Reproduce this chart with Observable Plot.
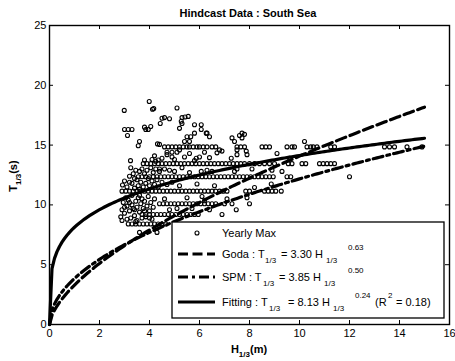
<!DOCTYPE html>
<html><head><meta charset="utf-8">
<script src="https://cdn.jsdelivr.net/npm/d3@7"></script>
<script src="https://cdn.jsdelivr.net/npm/@observablehq/plot@0.6"></script>
<style>
body{margin:0;background:#fff}
svg{font-family:"Liberation Sans",Arial,sans-serif}
</style>
</head><body><div id="chart"></div>
<script>
// ---------- data ----------
const chartTitle = "Hindcast Data : South Sea";
const xTicks = [0, 2, 4, 6, 8, 10, 12, 14, 16];
const yTicks = [0, 5, 10, 15, 20, 25];

// yearly maxima that fall on the quantized period rows
const rowLevels = [8.4, 9.2, 10.1, 11.15, 12.35, 13.45, 14.85];
const rowH = [
  [3.15,3.3,3.45,3.6,3.75,3.9,4.05,4.2,4.35,4.5,4.65],
  [3.7,3.85,4.0,4.15,4.3,4.45,4.6,4.75,4.9,5.05,5.2,5.35,5.5,5.65,5.8,5.95,6.9],
  [4.4,4.55,4.7,4.85,5.0,5.15,5.3,5.45,5.6,5.75,5.9,6.05,6.2,6.35,6.5,6.65,7.0,7.3,8.0],
  [2.9,3.05,3.2,3.35,3.5,3.65,3.8,3.95,4.1,4.25,4.4,4.55,4.7,4.85,5.0,5.15,5.3,5.45,5.6,5.75,5.9,6.05,6.2,6.35,6.5,6.65,6.8,6.95,7.1,7.85,8.0,8.6,8.75,8.9,9.05,9.27],
  [3.55,3.7,3.85,4.0,4.15,4.3,4.45,4.6,4.75,4.9,5.05,5.2,5.35,5.5,5.65,5.8,5.95,6.1,6.25,6.4,6.55,6.7,6.85,7.0,7.15,7.3,7.45,7.6,7.75,7.9,8.05,8.2,8.35,8.5,8.65,8.8,8.95,9.5,9.65,12.0],
  [3.75,3.9,4.05,4.2,4.35,4.5,4.65,4.8,4.95,5.1,5.25,5.4,5.55,5.7,5.85,6.0,6.15,6.3,6.45,6.6,6.75,6.9,7.05,7.2,7.35,7.5,7.65,7.8,8.0,8.2,8.4,8.6,8.8,9.0,9.55,9.7,10.1,10.25,10.8,10.95,11.1,11.25,11.4],
  [4.6,4.75,4.9,5.05,5.2,5.35,5.5,5.6,5.75,5.9,6.0,6.15,6.3,6.5,6.65,7.5,7.65,7.8,8.5,8.65,8.8,9.5,9.7,9.8,10.3,10.45,10.55,10.7,11.25,11.4,13.4,13.6,13.8,14.3,14.9]
];

// other yearly maxima [H1/3, T1/3]
const looseHT = [
  [2.99,17.9],[3.99,18.65],[4.12,18.0],[4.17,18.05],[5.1,18.1],[4.5,17.25],[4.6,17.3],[4.43,16.8],[4.8,17.2],
  [5.3,17.3],[5.42,17.35],[5.55,17.4],[5.3,16.8],[5.2,16.4],[5.8,16.7],[3.0,16.3],[3.15,16.3],[3.3,16.3],
  [3.8,16.5],[3.85,16.3],[3.95,16.3],[4.05,16.55],[3.12,15.8],[3.6,15.3],[3.55,14.95],[4.32,15.1],[5.5,15.7],
  [5.65,15.7],[5.4,15.3],[4.7,14.4],[4.9,14.4],[5.1,14.4],[4.2,14.1],[3.8,13.75],[4.1,13.8],[4.25,13.65],
  [4.35,13.75],[3.24,13.7],[4.9,14.0],[6.07,16.7],[6.3,16.0],[6.4,15.7],[7.3,15.6],[7.7,16.0],[7.7,15.6],
  [7.27,13.9],[7.5,14.2],[7.9,14.2],[7.5,14.6],[6.8,14.6],[6.0,14.0],[6.4,13.95],[10.2,15.3],
  [4.4,15.06],[5.27,17.0],[5.8,16.0],[6.07,16.3],[6.27,16.0],[7.6,15.8],[7.8,15.9],[7.4,15.3],[6.9,14.5],
  [6.7,14.35],[7.87,14.5],[5.87,13.9],[5.6,15.3],[4.4,13.0],
  [2.85,9.0],[2.9,9.6],[2.95,10.2],[3.0,9.3],[3.05,10.6],[3.1,8.8],[3.1,9.9],[3.15,10.4],[3.2,9.5],[3.25,8.9],
  [3.3,10.0],[3.3,10.8],[3.35,9.7],[3.4,9.1],[3.45,10.3],[3.5,9.8],[3.5,8.7],[3.55,10.6],[3.6,9.4],[3.65,10.1],
  [3.7,8.9],[3.7,10.5],[3.75,9.7],[3.8,10.3],[3.85,9.0],[3.9,9.9],[3.95,10.7],[4.0,9.5],[4.05,10.2],[4.1,8.8],
  [4.15,9.8],[4.2,10.5],[3.2,10.2],[3.4,9.6],[3.6,10.8],[3.0,9.8],[2.9,8.7],[3.8,9.5],[4.0,8.9],[3.45,8.6],
  [2.92,11.67],[3.0,12.0],[3.1,11.5],[3.2,12.4],[3.25,13.1],[3.3,11.8],[3.35,12.6],[3.4,11.4],[3.45,12.9],
  [3.5,12.1],[3.55,11.6],[3.6,12.8],[3.65,11.9],[3.7,13.0],[3.75,11.5],[3.8,12.6],[3.85,11.8],[3.9,12.9],
  [3.95,12.2],[4.0,11.6],[4.05,13.1],[4.1,12.0],[4.15,12.7],[4.2,11.7],[4.25,13.0],[4.3,12.1],[4.35,11.5],
  [4.4,12.8],[4.5,11.9],[4.6,13.0],[4.7,11.7],[4.8,12.9],[3.4,12.2],[3.6,11.3],[3.2,11.9],
  [4.5,13.9],[4.7,14.2],[5.0,13.8],[5.2,14.6],[5.4,14.0],[5.6,14.3],[5.8,13.7],[6.2,14.4],
  [5.0,12.8],[5.3,13.1],[5.6,12.7],[5.9,11.75],[5.2,11.6],[4.9,11.9],[6.3,12.9],[6.6,11.6],[5.5,10.6],
  [6.1,10.7],[4.6,10.5],[5.1,9.7],[4.8,9.6],[5.7,9.7],[6.4,9.6],[4.3,7.7],[3.6,7.7],
  [6.07,12.8],[6.5,12.8],[7.5,13.0],[8.2,11.45],[8.87,11.75],[7.1,10.5],[7.9,10.6],[7.47,9.6],[6.2,10.35],
  [8.1,13.0],[7.4,12.8],[8.9,12.9],[9.6,13.9],[9.1,14.3],[9.3,12.8]
];

// empirical relations T1/3 = a * H1/3 ^ b (from the legend)
const models = ["Goda", "SPM", "Fitting"];
const coefA = [3.30, 3.85, 8.13];
const coefB = [0.63, 0.50, 0.24];
const hGrid = d3.range(0, 150.5, 1).map(i => i / 10); // 0 .. 15 m, step 0.1

// ---------- build tables ----------
const points = [];
rowLevels.forEach((t, i) => rowH[i].forEach(h => points.push({H: h, T: t})));
looseHT.forEach(([h, t]) => points.push({H: h, T: t}));

const curves = models.map((m, i) => hGrid.map(h => ({model: m, H: h, T: coefA[i] * Math.pow(h, coefB[i])})));

// ---------- layout ----------
const W = 455, Ht = 361, mL = 49, mR = 6, mT = 25, mB = 37;
const pw = W - mL - mR, ph = Ht - mT - mB;
const lineW = 3.2;
const dashGoda = "10,4.5";
const dashSPM = "10,4,3,4";

const svgNode = Plot.plot({
  width: W, height: Ht,
  marginLeft: mL, marginRight: mR, marginTop: mT, marginBottom: mB,
  style: {fontFamily: '"Liberation Sans", Arial, sans-serif', fontSize: "11px", color: "black", background: "white", overflow: "visible"},
  x: {domain: [0, 16]},
  y: {domain: [0, 25]},
  marks: [
    Plot.dot(points, {x: "H", y: "T", r: 2, stroke: "black", strokeWidth: 1.1, fill: "none"}),
    Plot.line(curves[0], {x: "H", y: "T", stroke: "black", strokeWidth: lineW, strokeDasharray: dashGoda}),
    Plot.line(curves[1], {x: "H", y: "T", stroke: "black", strokeWidth: lineW, strokeDasharray: dashSPM}),
    Plot.line(curves[2], {x: "H", y: "T", stroke: "black", strokeWidth: lineW}),
    Plot.tickY(yTicks, {y: d => d, insetRight: pw - 4, stroke: "black"}),
    Plot.tickY(yTicks, {y: d => d, insetLeft: pw - 4, stroke: "black"}),
    Plot.tickX(xTicks, {x: d => d, insetTop: ph - 4, stroke: "black"}),
    Plot.tickX(xTicks, {x: d => d, insetBottom: ph - 4, stroke: "black"}),
    Plot.axisX({ticks: xTicks, anchor: "bottom", tickSize: 0, tickPadding: 5, label: null, fontSize: 11}),
    Plot.axisY({ticks: yTicks, anchor: "left", tickSize: 0, tickPadding: 3, label: null, fontSize: 11}),
    Plot.frame({stroke: "black", strokeWidth: 1.4})
  ]
});
document.getElementById("chart").appendChild(svgNode);

// ---------- texts & legend ----------
const svg = d3.select(svgNode);
const fam = '"Liberation Sans", Arial, sans-serif';

svg.append("text").attr("x", 248).attr("y", 17).attr("text-anchor", "middle")
  .attr("font-weight", "bold").attr("font-size", 11).attr("font-family", fam).text(chartTitle);

// x label H1/3(m)
const xl = svg.append("text").attr("x", 249).attr("y", 353).attr("text-anchor", "middle")
  .attr("font-weight", "bold").attr("font-size", 11).attr("font-family", fam);
xl.append("tspan").text("H");
xl.append("tspan").attr("dy", 4).attr("font-size", 8).text("1/3");
xl.append("tspan").attr("dy", -4).text("(m)");

// y label T1/3(s)
const yl = svg.append("text").attr("transform", "translate(17,176) rotate(-90)").attr("text-anchor", "middle")
  .attr("font-weight", "bold").attr("font-size", 11).attr("font-family", fam);
yl.append("tspan").text("T");
yl.append("tspan").attr("dy", 4).attr("font-size", 8).text("1/3");
yl.append("tspan").attr("dy", -4).text("(s)");

// legend
const lg = svg.append("g").attr("font-family", fam).attr("fill", "black").attr("text-anchor", "start");
lg.append("rect").attr("x", 172).attr("y", 222).attr("width", 272).attr("height", 96)
  .attr("fill", "white").attr("stroke", "black").attr("stroke-width", 1.3);

lg.append("circle").attr("cx", 197).attr("cy", 233).attr("r", 2).attr("fill", "none").attr("stroke", "black").attr("stroke-width", 1.1);
[[254, dashGoda], [277, dashSPM], [302, null]].forEach(([y, dash]) => {
  const l = lg.append("line").attr("x1", 178).attr("x2", 215).attr("y1", y).attr("y2", y)
    .attr("stroke", "black").attr("stroke-width", lineW);
  if (dash) l.attr("stroke-dasharray", dash);
});

function rich(y, segs) {
  segs.forEach(([t, x, k]) => {
    lg.append("text").attr("x", x).attr("text-anchor", "start")
      .attr("y", y + (k === "sub" ? 5 : k === "sup" ? -8 : 0))
      .attr("font-size", k === "n" ? 11 : 8).text(t);
  });
}
rich(237, [["Yearly Max", 222, "n"]]);
rich(258, [["Goda : T", 222, "n"], ["1/3", 265, "sub"], ["= 3.30 H", 281, "n"], ["1/3", 326, "sub"], ["0.63", 348, "sup"]]);
rich(281, [["SPM : T", 222, "n"], ["1/3", 263, "sub"], ["= 3.85 H", 279, "n"], ["1/3", 324, "sub"], ["0.50", 348, "sup"]]);
rich(306, [["Fitting : T", 222, "n"], ["1/3", 269, "sub"], ["= 8.13 H", 288, "n"], ["1/3", 333, "sub"],
           ["0.24", 355, "sup"], ["(R", 375, "n"], ["2", 388, "sup"], ["= 0.18)", 396, "n"]]);
</script>
</body></html>
